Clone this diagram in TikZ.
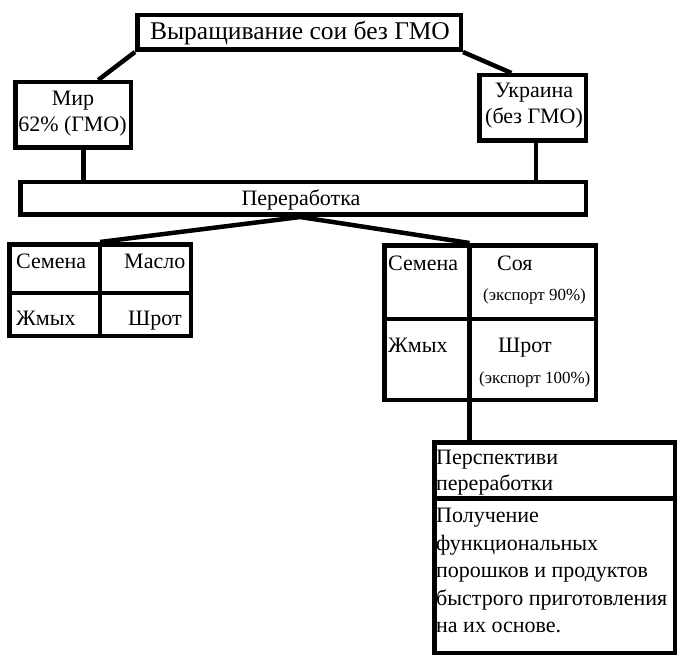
\documentclass[tikz,border=0pt]{standalone}
\usepackage{fontspec}
\setmainfont{Liberation Serif}
\usetikzlibrary{calc}
\begin{document}
\begin{tikzpicture}[x=1pt,y=-1pt,
  box/.style={draw, line width=4.5pt, rectangle, inner sep=0pt},
  conn/.style={line width=4.5pt},
  lbl/.style={inner sep=0pt, font=\fontsize{22}{26}\selectfont},
  small/.style={inner sep=0pt, font=\fontsize{17}{20}\selectfont},
  big/.style={inner sep=0pt, font=\fontsize{25.5}{30}\selectfont}]
\useasboundingbox (0,0) rectangle (677,655);
% boxes
\node[box, minimum width=323.5, minimum height=34.5] (title) at (299,32.5) {};
\node[box, minimum width=115.5, minimum height=65.5] (mir) at (73,115) {};
\node[box, minimum width=106.5, minimum height=65.5] (ukr) at (532.5,108) {};
\node[box, minimum width=565.5, minimum height=32.5] (per) at (303,198.5) {};
\node[box, minimum width=181.5, minimum height=91.5] (ltab) at (100,290) {};
\node[box, minimum width=211.5, minimum height=154.5] (rtab) at (490,322.5) {};
\node[box, minimum width=240.5, minimum height=210.5] (persp) at (554.5,547.5) {};
% table dividers
\draw[conn] (ltab.north) -- (ltab.south);
\draw[conn] ($(ltab.north west)!0.53!(ltab.south west)$) -- ($(ltab.north east)!0.53!(ltab.south east)$);
\coordinate (rtop) at ($(rtab.north west)!0.405!(rtab.north east)$);
\coordinate (rbot) at ($(rtab.south west)!0.405!(rtab.south east)$);
\draw[conn] (rtop) -- (rbot);
\draw[conn] ($(rtab.north west)!0.477!(rtab.south west)$) -- ($(rtab.north east)!0.477!(rtab.south east)$);
\draw[conn] ($(persp.north west)!0.272!(persp.south west)$) -- ($(persp.north east)!0.272!(persp.south east)$);
% connectors
\draw[conn] (title.south west) -- ($(mir.north west)!0.71!(mir.north east)$);
\draw[conn] (title.south east) -- ($(ukr.north west)!0.31!(ukr.north east)$);
\coordinate (mirb) at ($(mir.south west)!0.587!(mir.south east)$);
\draw[conn] (mirb) -- (mirb |- per.north);
\coordinate (ukrb) at ($(ukr.south west)!0.53!(ukr.south east)$);
\draw[conn] (ukrb) -- (ukrb |- per.north);
\coordinate (perb) at ($(per.south west)!0.495!(per.south east)$);
\draw[conn] (perb) -- (ltab.north);
\draw[conn] (perb) -- (rtop);
\draw[conn] (rbot) -- (rbot |- persp.north);
% texts
\node[big, anchor=base] (t0) at (300,39.5) {Выращивание сои без ГМО};
\node[lbl, anchor=base] (t1) at (73,106) {Мир};
\node[lbl, anchor=base] (t2) at (72.5,132) {62\% (ГМО)};
\node[lbl, anchor=base] (t3) at (534,98) {Украина};
\node[lbl, anchor=base] (t4) at (534,124) {(без ГМО)};
\node[lbl, anchor=base] (t5) at (301,205) {Переработка};
\node[lbl, anchor=base west] (t6) at (16,268) {Семена};
\node[lbl, anchor=base west] (t7) at (124,268) {Масло};
\node[lbl, anchor=base west] (t8) at (16,325) {Жмых};
\node[lbl, anchor=base west] (t9) at (128,325) {Шрот};
\node[lbl, anchor=base west] (t10) at (388,270) {Семена};
\node[lbl, anchor=base west] (t11) at (497,270) {Соя};
\node[small, anchor=base west] (t12) at (483,300) {(экспорт 90\%)};
\node[lbl, anchor=base west] (t13) at (388,352) {Жмых};
\node[lbl, anchor=base west] (t14) at (498,352) {Шрот};
\node[small, anchor=base west] (t15) at (479,383) {(экспорт 100\%)};
\node[inner sep=0pt, anchor=north west, align=left, font=\fontsize{22}{25.5}\selectfont] (t16) at (436,450) {Перспективи\\переработки};
\node[inner sep=0pt, anchor=north west, align=left, font=\fontsize{22}{27.5}\selectfont] (t17) at (436,508) {Получение\\функциональных\\порошков и продуктов\\быстрого приготовления\\на их основе.};
\end{tikzpicture}
\end{document}
